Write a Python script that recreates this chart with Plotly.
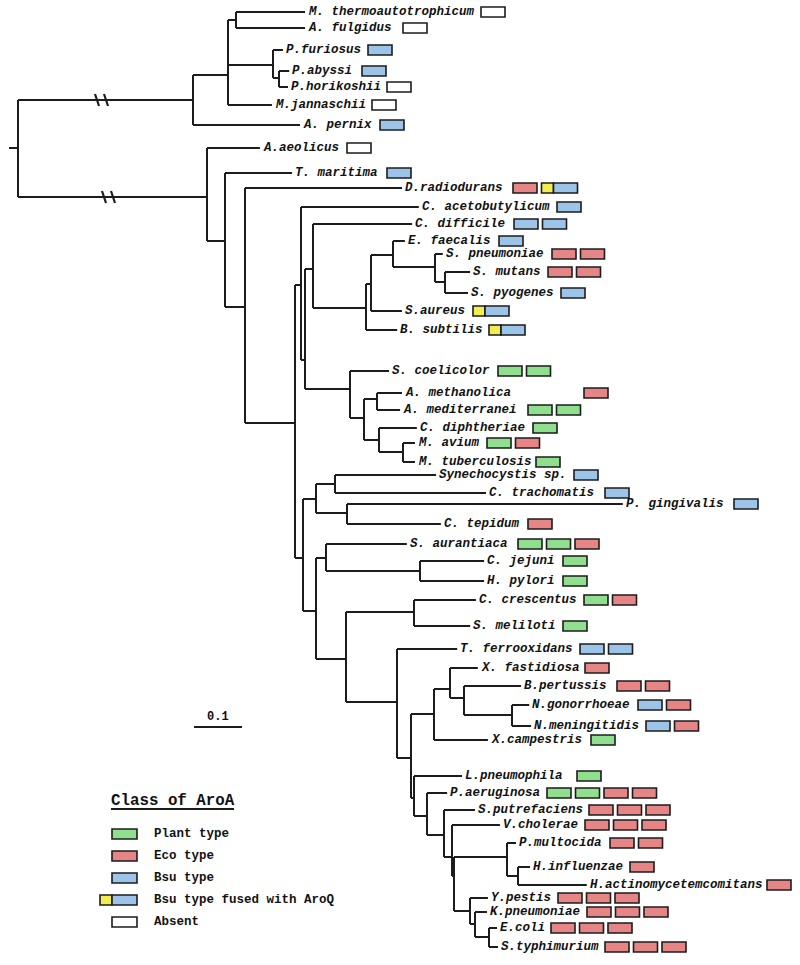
import plotly.graph_objects as go

# ---------------- DATA ----------------
# Internal nodes of the AroA tree: name, parent, depth (substitutions/site from root), row (vertical position)
int_names = ["root", "arch", "bact", "a1", "a2", "pyro", "pyro2", "b1", "b2", "b3",
             "f0", "f1", "f2", "f3", "f4", "f5", "f6", "f7",
             "act", "act1", "act2", "act3", "act4",
             "p0", "c0", "c1", "c2", "p1", "d0", "d1", "p2", "al", "p3", "p4",
             "b0", "bx1", "bx2", "nei", "g0", "g1", "g2", "g3", "g4", "past", "hae",
             "ent", "ent1", "ent2"]
int_parent = [None, "root", "root", "arch", "a1", "a1", "pyro", "bact", "b1", "b2",
              "b3", "f0", "f1", "f2", "f3", "f4", "f5", "f6",
              "f1", "act", "act1", "act1", "act3",
              "b3", "p0", "c0", "c0", "p0", "p1", "d0", "p1", "p2", "p2", "p3",
              "p4", "b0", "bx1", "bx2", "p4", "g0", "g1", "g2", "g3", "g4", "past",
              "g4", "ent", "ent1"]
int_depth = [0.0, 0.3646, 0.3938, 0.4375, 0.4542, 0.5313, 0.5438, 0.4313, 0.4729, 0.5771,
             0.5896, 0.5979, 0.6146, 0.725, 0.7354, 0.7813, 0.8688, 0.8896,
             0.6917, 0.7208, 0.7479, 0.7521, 0.8021,
             0.5938, 0.6208, 0.6604, 0.6854, 0.6208, 0.6417, 0.8375, 0.6833, 0.825, 0.7896, 0.8188,
             0.8667, 0.9, 0.9292, 1.0292, 0.825, 0.8521, 0.8875, 0.9042, 0.9083, 1.0188, 1.0417,
             0.9417, 0.9521, 0.9813]
int_row = [148, 100, 197, 75, 20, 65, 78, 241, 307, 423,
           285, 360, 269, 308, 284, 255, 267, 282,
           389, 418, 399, 440, 452,
           558, 499, 484, 513, 611, 558, 571, 659, 612, 702, 758,
           714, 689, 698, 715, 798, 816, 835, 857, 876, 857, 876,
           911, 924, 937]

# Leaves (taxa)
taxa = ["M. thermoautotrophicum", "A. fulgidus", "P.furiosus", "P.abyssi", "P.horikoshii",
        "M.jannaschii", "A. pernix", "A.aeolicus", "T. maritima", "D.radiodurans",
        "C. acetobutylicum", "C. difficile", "E. faecalis", "S. pneumoniae", "S. mutans",
        "S. pyogenes", "S.aureus", "B. subtilis", "S. coelicolor", "A. methanolica",
        "A. mediterranei", "C. diphtheriae", "M. avium", "M. tuberculosis", "Synechocystis sp.",
        "C. trachomatis", "P. gingivalis", "C. tepidum", "S. aurantiaca", "C. jejuni",
        "H. pylori", "C. crescentus", "S. meliloti", "T. ferrooxidans", "X. fastidiosa",
        "B.pertussis", "N.gonorrhoeae", "N.meningitidis", "X.campestris", "L.pneumophila",
        "P.aeruginosa", "S.putrefaciens", "V.cholerae", "P.multocida", "H.influenzae",
        "H.actinomycetemcomitans", "Y.pestis", "K.pneumoniae", "E.coli", "S.typhimurium"]
taxa_parent = ["a2", "a2", "pyro", "pyro2", "pyro2", "a1", "arch", "bact", "b1", "b2",
               "f0", "f2", "f5", "f6", "f7", "f7", "f4", "f3", "act", "act2",
               "act2", "act3", "act4", "act4", "c1", "c1", "c2", "c2", "d0", "d1",
               "d1", "al", "al", "p3", "bx1", "bx2", "nei", "nei", "b0", "g0",
               "g1", "g2", "g3", "past", "hae", "hae", "ent", "ent1", "ent2", "ent2"]
taxa_depth = [0.598, 0.598, 0.552, 0.565, 0.5625, 0.529, 0.5875, 0.504, 0.571, 0.8,
              0.835, 0.821, 0.806, 0.885, 0.942, 0.9375, 0.8, 0.79, 0.773, 0.8,
              0.796, 0.831, 0.827, 0.827, 0.871, 0.975, 1.26, 0.881, 0.81, 0.971,
              0.971, 0.954, 0.942, 0.915, 0.958, 1.048, 1.065, 1.069, 0.979, 0.925,
              0.894, 0.952, 1.004, 1.0375, 1.0667, 1.185, 0.979, 0.977, 0.998, 1.0]
taxa_row = [12, 28, 50, 71, 87, 105, 125, 148, 173, 188,
            207, 224, 241, 254, 272, 293, 311, 330, 371, 393,
            410, 428, 443, 462, 475, 493, 504, 524, 544, 561,
            581, 600, 626, 649, 668, 686, 705, 726, 740, 776,
            793, 810, 825, 843, 867, 885, 898, 912, 928, 947]
# AroA classes per taxon: P=Plant, E=Eco, B=Bsu, F=Bsu fused with AroQ, A=Absent
taxa_aroa = ["A", "A", "B", "B", "A", "A", "B", "A", "B", "EF",
             "B", "BB", "B", "EE", "EE", "B", "F", "F", "PP", "E",
             "PP", "P", "PE", "P", "B", "B", "B", "E", "PPE", "P",
             "P", "PE", "P", "BB", "E", "EE", "BE", "BE", "P", "P",
             "PPEE", "EEE", "EEE", "EE", "E", "E", "EEE", "EEE", "EEE", "EEE"]

legend_codes = ["P", "E", "B", "F", "A"]
legend_labels = ["Plant type", "Eco type", "Bsu type", "Bsu type fused with AroQ", "Absent"]

# ---------------- LAYOUT PARAMETERS ----------------
W, H = 800, 965
ROOT_PX = 18          # pixel column of the root
PX_PER_UNIT = 480     # 0.1 substitutions = 48 px (scale bar)

def px2u(px):
    return (px - ROOT_PX) / PX_PER_UNIT

# column (px) where the first AroA box of each taxon starts
box_col_px = [481, 403, 368, 362, 387, 372, 380, 347, 387, 513,
              557, 514, 499, 552, 548, 561, 473, 489, 498, 584,
              528, 533, 487, 536, 574, 605, 734, 528, 518, 563,
              563, 584, 563, 580, 585, 617, 638, 646, 591, 577,
              547, 589, 585, 610, 630, 767, 558, 587, 551, 605]

colors = {"P": "#8fdf8f", "E": "#e58585", "B": "#9cc4e8", "A": "#ffffff", "Y": "#f2ee52"}
LINE = "#1c1c1c"
FONT = "Liberation Mono, Courier New, monospace"
BOX_W, BOX_H, GAP, Y_W = 24, 10, 4.5, 12

# ---------------- BUILD TREE ----------------
depth = dict(zip(int_names, int_depth))
row = dict(zip(int_names, int_row))
parent = dict(zip(int_names, int_parent))
for n, p, d, r in zip(taxa, taxa_parent, taxa_depth, taxa_row):
    depth[n], row[n], parent[n] = d, r, p

children = {}
for n, p in parent.items():
    if p is not None:
        children.setdefault(p, []).append(n)

xs, ys = [], []
for n, p in parent.items():
    if p is None:
        continue
    xs += [depth[p], depth[n], None]
    ys += [row[n], row[n], None]
for n in int_names:
    ch = children[n]
    rs = [row[c] for c in ch]
    xs += [depth[n], depth[n], None]
    ys += [min(rs), max(rs), None]
# root stub
xs += [px2u(9), depth["root"], None]
ys += [row["root"], row["root"], None]

fig = go.Figure()
fig.add_trace(go.Scatter(x=xs, y=ys, mode="lines",
                         line=dict(color=LINE, width=2), hoverinfo="skip",
                         showlegend=False))

shapes = []
annotations = []

def rect(x0px, x1px, yc, fill, h=BOX_H):
    shapes.append(dict(type="rect", xref="x", yref="y",
                       x0=px2u(x0px), x1=px2u(x1px), y0=yc - h / 2, y1=yc + h / 2,
                       fillcolor=fill, line=dict(color=LINE, width=1.6), layer="above"))

def draw_boxes(codes, x, yc, w=BOX_W):
    for c in codes:
        if c == "F":
            rect(x, x + Y_W, yc, colors["Y"])
            rect(x + Y_W, x + Y_W + w, yc, colors["B"])
            x += Y_W + w + GAP
        else:
            rect(x, x + w, yc, colors[c])
            x += w + GAP

# labels and boxes
for n, d, r, cls, bx in zip(taxa, taxa_depth, taxa_row, taxa_aroa, box_col_px):
    annotations.append(dict(x=d + px2u(ROOT_PX + 1), y=r, xref="x", yref="y",
                            text=n, showarrow=False, xanchor="left", yanchor="middle",
                            font=dict(family=FONT, size=12.5, color="#111",
                                      weight="bold", style="italic")))
    draw_boxes(cls, bx, r)

# break marks on the two long root branches
for (bxpx, brow) in [(97, row["arch"]), (106, row["arch"]), (104, row["bact"]), (113, row["bact"])]:
    shapes.append(dict(type="line", xref="x", yref="y",
                       x0=px2u(bxpx - 2), x1=px2u(bxpx + 2), y0=brow - 6, y1=brow + 6,
                       line=dict(color=LINE, width=2.2)))

# scale bar 0.1
SB_X0, SB_Y = px2u(194), 727
shapes.append(dict(type="line", xref="x", yref="y", x0=SB_X0, x1=SB_X0 + 0.1,
                   y0=SB_Y, y1=SB_Y, line=dict(color=LINE, width=2)))
annotations.append(dict(x=SB_X0 + 0.05, y=SB_Y - 10, xref="x", yref="y", text="0.1",
                        showarrow=False, xanchor="center", yanchor="middle",
                        font=dict(family=FONT, size=12, color="#111", weight="bold")))

# legend
LEG_X, LEG_TEXT_X, LEG_TITLE_Y = 112, 152, 801
leg_rows = [834, 856, 878, 900, 922]
annotations.append(dict(x=px2u(109), y=LEG_TITLE_Y, xref="x", yref="y", text="Class of AroA",
                        showarrow=False, xanchor="left", yanchor="middle",
                        font=dict(family=FONT, size=15.8, color="#111", weight="bold")))
shapes.append(dict(type="line", xref="x", yref="y", x0=px2u(111), x1=px2u(234),
                   y0=LEG_TITLE_Y + 8, y1=LEG_TITLE_Y + 8, line=dict(color=LINE, width=2)))
for code, lab, r in zip(legend_codes, legend_labels, leg_rows):
    if code == "F":
        draw_boxes("F", LEG_X - Y_W, r, w=25)
    else:
        draw_boxes(code, LEG_X, r, w=25)
    annotations.append(dict(x=px2u(LEG_TEXT_X), y=r, xref="x", yref="y", text=lab,
                            showarrow=False, xanchor="left", yanchor="middle",
                            font=dict(family=FONT, size=12.5, color="#111", weight="bold")))

fig.update_layout(
    width=W, height=H, margin=dict(l=0, r=0, t=0, b=0),
    paper_bgcolor="white", plot_bgcolor="white",
    xaxis=dict(range=[px2u(0), px2u(W)], visible=False, fixedrange=True),
    yaxis=dict(range=[H, 0], visible=False, fixedrange=True),
    shapes=shapes, annotations=annotations, showlegend=False,
)

# remove the default page margin so the figure sits at the window's top-left corner
fig.write_html("out.html",
               config={"displayModeBar": False, "staticPlot": True},
               post_script="document.body.style.margin='0';document.body.style.overflow='hidden';")
